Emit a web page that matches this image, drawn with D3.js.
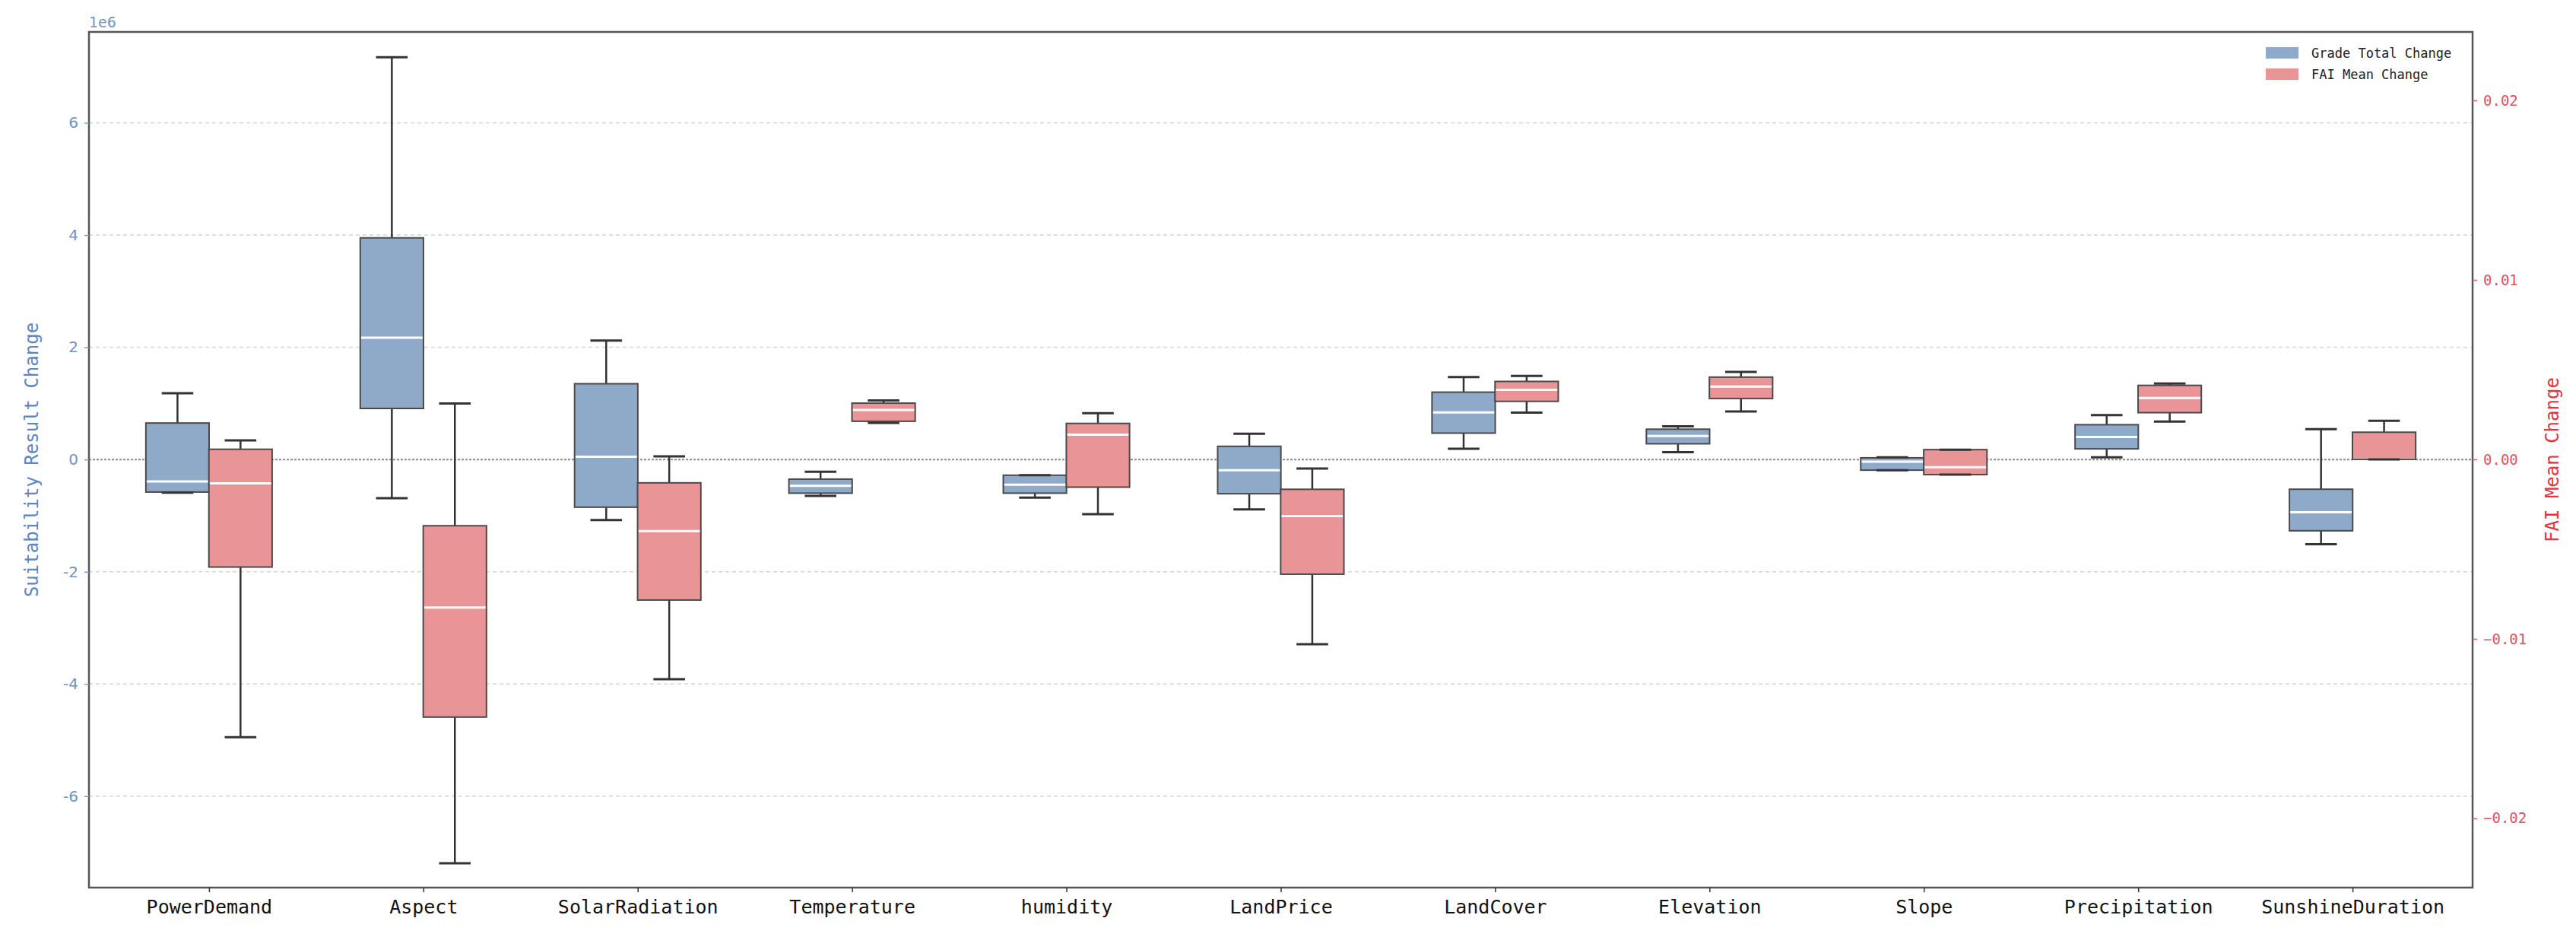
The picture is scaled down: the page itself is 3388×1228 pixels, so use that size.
<!DOCTYPE html>
<html>
<head>
<meta charset="utf-8">
<script src="https://cdn.jsdelivr.net/npm/d3@7"></script>
<style>
  body { margin: 0; background: #fff; }
  svg { display: block; }
</style>
</head>
<body>
<svg id="chart" width="3388" height="1228"></svg>
<script>
const categories = ["PowerDemand", "Aspect", "SolarRadiation", "Temperature", "humidity",
  "LandPrice", "LandCover", "Elevation", "Slope", "Precipitation", "SunshineDuration"];

// Grade Total Change (left axis)
const gradeLow    = [-0.59e6, -0.69e6, -1.08e6, -0.65e6, -0.68e6, -0.89e6, 0.19e6, 0.13e6, -0.19e6, 0.04e6, -1.51e6];
const gradeQ1     = [-0.58e6,  0.91e6, -0.85e6, -0.60e6, -0.60e6, -0.61e6, 0.47e6, 0.28e6, -0.19e6, 0.19e6, -1.27e6];
const gradeMedian = [-0.39e6,  2.17e6,  0.05e6, -0.47e6, -0.45e6, -0.19e6, 0.84e6, 0.42e6, -0.04e6, 0.40e6, -0.94e6];
const gradeQ3     = [ 0.65e6,  3.95e6,  1.35e6, -0.35e6, -0.28e6,  0.235e6, 1.20e6, 0.54e6, 0.03e6, 0.62e6, -0.53e6];
const gradeHigh   = [ 1.18e6,  7.17e6,  2.12e6, -0.22e6, -0.28e6,  0.46e6, 1.47e6, 0.59e6, 0.04e6, 0.79e6, 0.54e6];

// FAI Mean Change (right axis)
const faiLow    = [-0.01548, -0.0225, -0.01225, 0.00203, -0.00305, -0.0103, 0.0026, 0.00267, -0.00085, 0.0021, 0];
const faiQ1     = [-0.0060, -0.01436, -0.00784, 0.00212, -0.00155, -0.0064, 0.00323, 0.00339, -0.00085, 0.0026, 0];
const faiMedian = [-0.00134, -0.00826, -0.0040, 0.00275, 0.00137, -0.00316, 0.00387, 0.00405, -0.00044, 0.00342, 0];
const faiQ3     = [0.00056, -0.0037, -0.00131, 0.00313, 0.0020, -0.00167, 0.00434, 0.00458, 0.00054, 0.00412, 0.00151];
const faiHigh   = [0.00106, 0.00311, 0.00017, 0.00328, 0.00257, -0.00051, 0.00465, 0.00487, 0.00054, 0.00422, 0.00215];

const leftTicks = [-6e6, -4e6, -2e6, 0, 2e6, 4e6, 6e6];
const rightTicks = [-0.02, -0.01, 0, 0.01, 0.02];

const seriesNames = ["Grade Total Change", "FAI Mean Change"];
const seriesColors = ["#8FA9C9", "#E99597"];

const plot = { left: 117, right: 3252, top: 42, bottom: 1167 };
const monoFont = "'DejaVu Sans Mono', monospace";

const svg = d3.select("#chart");
svg.append("rect").attr("width", 3388).attr("height", 1228).attr("fill", "#fff");

const x = d3.scaleLinear().domain([-0.56, 10.56]).range([plot.left, plot.right]);
const yL = d3.scaleLinear().domain([-7.63e6, 7.62e6]).range([plot.bottom, plot.top]);
const yR = d3.scaleLinear().domain([-0.02386, 0.02381]).range([plot.bottom, plot.top]);

// grid lines
svg.append("g")
  .selectAll("line")
  .data(leftTicks.filter(d => d !== 0))
  .join("line")
  .attr("x1", plot.left).attr("x2", plot.right)
  .attr("y1", d => yL(d)).attr("y2", d => yL(d))
  .attr("stroke", "#d4d4d4")
  .attr("stroke-width", 1.5)
  .attr("stroke-dasharray", "5,4");

// zero line
svg.append("line")
  .attr("x1", plot.left).attr("x2", plot.right)
  .attr("y1", yL(0)).attr("y2", yL(0))
  .attr("stroke", "#8a8a8a")
  .attr("stroke-width", 2)
  .attr("stroke-dasharray", "3,2");

// boxes
const boxW = 0.295;
const offsets = [-0.147, 0.147];
const series = [
  { low: gradeLow, q1: gradeQ1, med: gradeMedian, q3: gradeQ3, high: gradeHigh, y: yL },
  { low: faiLow, q1: faiQ1, med: faiMedian, q3: faiQ3, high: faiHigh, y: yR }
];

series.forEach((s, si) => {
  const g = svg.append("g");
  const rows = categories.map((c, i) => ({
    pos: i + offsets[si], low: s.low[i], q1: s.q1[i], med: s.med[i], q3: s.q3[i], high: s.high[i]
  }));
  const y = s.y;

  // whiskers
  g.append("g").selectAll("line").data(rows).join("line")
    .attr("x1", d => x(d.pos)).attr("x2", d => x(d.pos))
    .attr("y1", d => y(d.q1)).attr("y2", d => y(d.low))
    .attr("stroke", "#333").attr("stroke-width", 2.5);
  g.append("g").selectAll("line").data(rows).join("line")
    .attr("x1", d => x(d.pos)).attr("x2", d => x(d.pos))
    .attr("y1", d => y(d.q3)).attr("y2", d => y(d.high))
    .attr("stroke", "#333").attr("stroke-width", 2.5);

  // box fill
  g.append("g").selectAll("rect").data(rows).join("rect")
    .attr("x", d => x(d.pos - boxW / 2))
    .attr("width", x(boxW) - x(0))
    .attr("y", d => y(d.q3))
    .attr("height", d => Math.max(1, y(d.q1) - y(d.q3)))
    .attr("fill", seriesColors[si]);

  // median
  g.append("g").selectAll("line").data(rows).join("line")
    .attr("x1", d => x(d.pos - boxW / 2) + 1).attr("x2", d => x(d.pos + boxW / 2) - 1)
    .attr("y1", d => y(d.med)).attr("y2", d => y(d.med))
    .attr("stroke", "#fff").attr("stroke-width", 3);

  // box outline
  g.append("g").selectAll("rect").data(rows).join("rect")
    .attr("x", d => x(d.pos - boxW / 2))
    .attr("width", x(boxW) - x(0))
    .attr("y", d => y(d.q3))
    .attr("height", d => Math.max(1, y(d.q1) - y(d.q3)))
    .attr("fill", "none")
    .attr("stroke", "#4a4a4a")
    .attr("stroke-width", 2);

  // caps
  [d => d.low, d => d.high].forEach(acc => {
    g.append("g").selectAll("line").data(rows).join("line")
      .attr("x1", d => x(d.pos - boxW / 4)).attr("x2", d => x(d.pos + boxW / 4))
      .attr("y1", d => y(acc(d))).attr("y2", d => y(acc(d)))
      .attr("stroke", "#333").attr("stroke-width", 3);
  });
});

// frame
svg.append("rect")
  .attr("x", plot.left).attr("y", plot.top)
  .attr("width", plot.right - plot.left).attr("height", plot.bottom - plot.top)
  .attr("fill", "none").attr("stroke", "#555").attr("stroke-width", 2.5);

// left axis
const leftAxis = svg.append("g")
  .attr("transform", `translate(${plot.left},0)`)
  .call(d3.axisLeft(yL).tickValues(leftTicks).tickFormat(d => d / 1e6).tickSize(6).tickPadding(8));
leftAxis.select(".domain").remove();
leftAxis.selectAll("line").attr("stroke", "#7f9cc4").attr("stroke-width", 1.5);
leftAxis.selectAll("text")
  .attr("fill", "#7093c6")
  .style("font-family", "'DejaVu Sans', sans-serif")
  .style("font-size", "20px");

svg.append("text")
  .attr("x", plot.left).attr("y", 36)
  .attr("fill", "#7093c6")
  .style("font-family", "'DejaVu Sans', sans-serif")
  .style("font-size", "19px")
  .text("1e6");

svg.append("text")
  .attr("transform", `translate(50,${(plot.top + plot.bottom) / 2}) rotate(-90)`)
  .attr("text-anchor", "middle")
  .attr("fill", "#5a86c4")
  .style("font-family", monoFont)
  .style("font-size", "24px")
  .text("Suitability Result Change");

// right axis
const rightAxis = svg.append("g")
  .attr("transform", `translate(${plot.right},0)`)
  .call(d3.axisRight(yR).tickValues(rightTicks).tickFormat(d3.format(".2f")).tickSize(6).tickPadding(8));
rightAxis.select(".domain").remove();
rightAxis.selectAll("line").attr("stroke", "#e0606c").attr("stroke-width", 1.5);
rightAxis.selectAll("text")
  .attr("fill", "#e8505f")
  .style("font-family", monoFont)
  .style("font-size", "19px");

svg.append("text")
  .attr("transform", `translate(3365,${(plot.top + plot.bottom) / 2}) rotate(-90)`)
  .attr("text-anchor", "middle")
  .attr("fill", "#e8323c")
  .style("font-family", monoFont)
  .style("font-size", "24px")
  .text("FAI Mean Change");

// bottom axis
const bottomAxis = svg.append("g")
  .attr("transform", `translate(0,${plot.bottom})`)
  .call(d3.axisBottom(x).tickValues(d3.range(categories.length)).tickFormat(i => categories[i]).tickSize(6).tickPadding(10));
bottomAxis.select(".domain").remove();
bottomAxis.selectAll("line").attr("stroke", "#333").attr("stroke-width", 1.5);
bottomAxis.selectAll("text")
  .attr("fill", "#111")
  .style("font-family", monoFont)
  .style("font-size", "25px");

// legend
const legend = svg.append("g").attr("transform", "translate(2980,62)");
seriesNames.forEach((name, i) => {
  legend.append("rect")
    .attr("x", 0).attr("y", i * 28)
    .attr("width", 43).attr("height", 15)
    .attr("fill", seriesColors[i]);
  legend.append("text")
    .attr("x", 60).attr("y", i * 28 + 8)
    .attr("dy", "0.35em")
    .attr("fill", "#222")
    .style("font-family", monoFont)
    .style("font-size", "17px")
    .text(name);
});
</script>
</body>
</html>
